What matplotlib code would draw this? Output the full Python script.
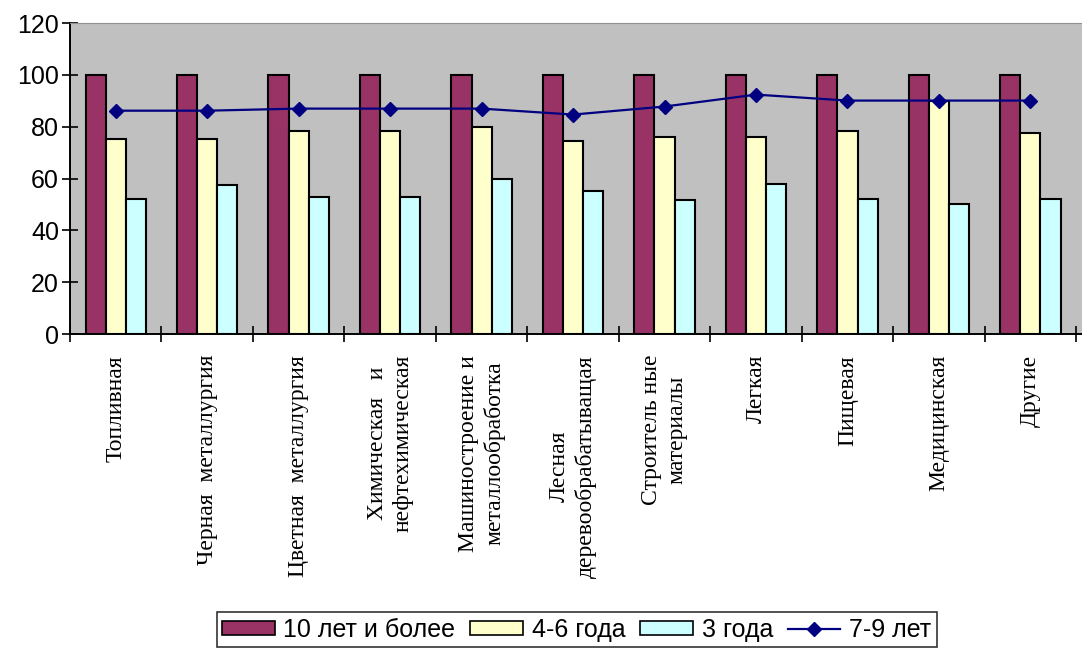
import numpy as np
import matplotlib.pyplot as plt
from matplotlib.patches import Patch
from matplotlib.lines import Line2D

categories = ["Топливная", "Черная  металлургия", "Цветная  металлургия",
              "Химическая   и\nнефтехимическая", "Машиностроение и\nметаллообработка",
              "Лесная\nдеревообрабатыващая", "Строитель ные\nматериалы",
              "Легкая", "Пищевая", "Медицинская", "Другие"]
s10 = [100, 100, 100, 100, 100, 100, 100, 100, 100, 100, 100]
s46 = [75.4, 75.4, 78.5, 78.5, 79.9, 74.5, 76.2, 76.2, 78.5, 90.1, 77.6]
s3 = [52.3, 57.7, 52.9, 52.9, 59.8, 55.3, 51.6, 57.8, 52.3, 50.1, 52.3]
s79 = [86.2, 86.2, 87.0, 87.0, 87.0, 84.7, 87.8, 92.4, 90.1, 90.1, 90.1]

fig = plt.figure(figsize=(10.82, 6.5), dpi=100)
ax = fig.add_axes([0.0647, 0.486, 0.94, 0.4785])
ax.set_facecolor("#C0C0C0")

x = np.arange(len(categories))
w = 0.22
kw = dict(width=w, edgecolor="black", linewidth=1.5, zorder=2)
ax.bar(x - w, s10, color="#993366", **kw)
ax.bar(x, s46, color="#FFFFCC", **kw)
ax.bar(x + w, s3, color="#CCFFFF", **kw)
ax.plot(x, s79, color="#000080", lw=1.6, marker="D", ms=7, zorder=3)

ax.set_xlim(-0.5, 10.62)
ax.set_ylim(0, 120)
ax.set_yticks(range(0, 121, 20))
ax.tick_params(axis="y", direction="inout", length=12, width=1.2, labelsize=18, pad=2)
for t in ax.get_yticklabels():
    t.set_fontfamily("Liberation Sans")

# category labels at centres, tick marks at boundaries
ax.set_xticks(x)
ax.set_xticklabels(categories, rotation=90, fontsize=17, family="Liberation Serif",
                   va="top", ha="center", multialignment="center", linespacing=1.3)
ax.tick_params(axis="x", which="major", length=0, pad=15)
ax.set_xticks(np.arange(-0.5, 11, 1), minor=True)
ax.tick_params(axis="x", which="minor", direction="inout", length=12, width=1.2)

ax.spines["left"].set_linewidth(1.4)
ax.spines["bottom"].set_linewidth(1.4)
ax.spines["top"].set_color("#909090")
ax.spines["right"].set_visible(False)

handles = [Patch(facecolor="#993366", edgecolor="black", linewidth=1.2),
           Patch(facecolor="#FFFFCC", edgecolor="black", linewidth=1.2),
           Patch(facecolor="#CCFFFF", edgecolor="black", linewidth=1.2),
           Line2D([], [], color="#000080", lw=1.6, marker="D", ms=7)]
labels = ["10 лет и более", "4-6 года", "3 года", "7-9 лет"]
leg = fig.legend(handles, labels, loc="center", bbox_to_anchor=(0.533, 0.031), ncol=4,
                 prop={"family": "Liberation Sans", "size": 18}, frameon=True, fancybox=False,
                 edgecolor="black", handlelength=2.1, handleheight=0.5, handletextpad=0.35,
                 columnspacing=0.6, borderpad=0.22)
leg.get_frame().set_linewidth(1.2)

fig.savefig("out.png", dpi=100)
